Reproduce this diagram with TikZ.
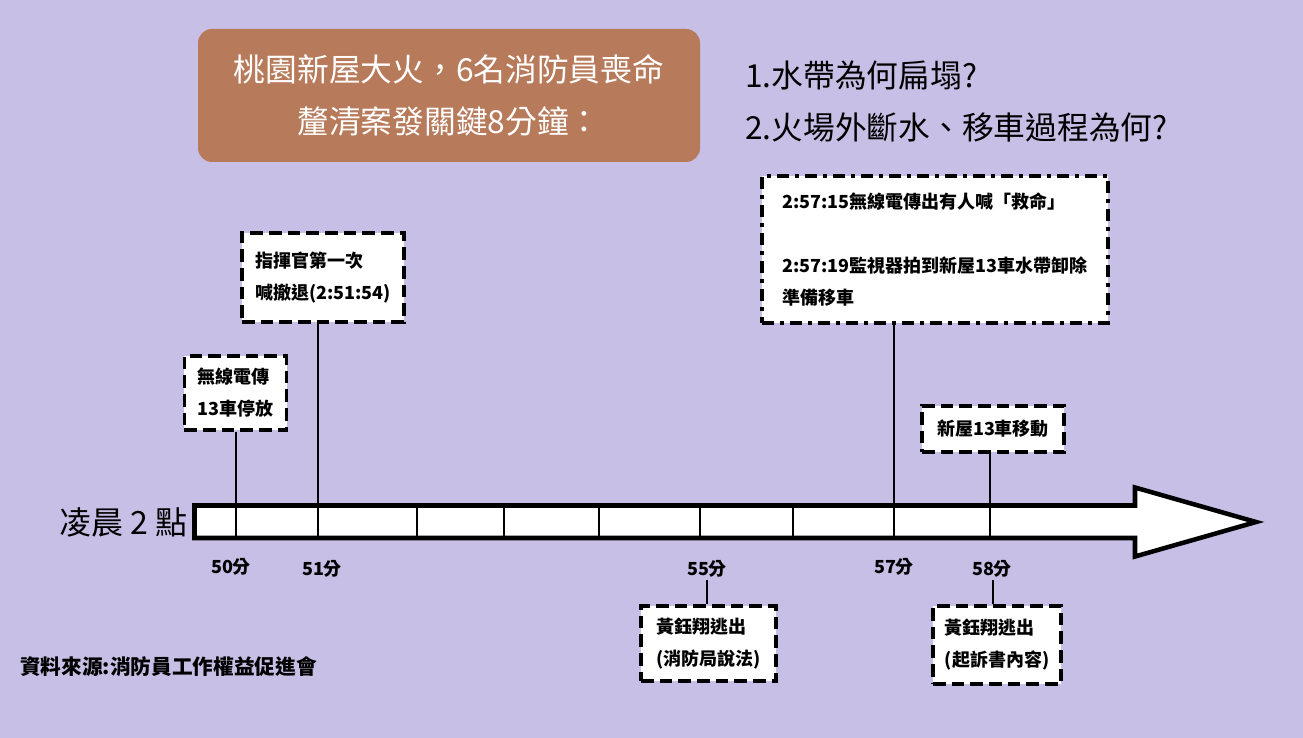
\documentclass[tikz,border=0pt]{standalone}
\usepackage{fontspec}
\setmainfont{Noto Sans CJK TC}
\newfontfamily\cjk{Noto Sans CJK TC}
\definecolor{bgcol}{RGB}{199,191,229}
\definecolor{titlecol}{RGB}{183,122,90}
\tikzset{
  evbox/.style={draw=black, fill=white, line width=2.3pt, dash pattern=on 9.5pt off 4.5pt,
    align=left, font=\cjk\bfseries\fontsize{13.5pt}{24pt}\selectfont, inner sep=0pt},
  evboxdd/.style={evbox, dash pattern=on 9pt off 4.5pt on 3pt off 4.5pt},
  conn/.style={draw=black, line width=1.5pt},
  divider/.style={draw=black, line width=1.1pt},
  minlabel/.style={font=\cjk\bfseries\fontsize{13.5pt}{16pt}\selectfont, inner sep=0pt},
  question/.style={anchor=west, font=\cjk\fontsize{23.8pt}{28pt}\selectfont, inner sep=0pt},
}
\begin{document}
\begin{tikzpicture}[x=0.75pt,y=-0.75pt]
\fill[bgcol] (0,0) rectangle (1303,738);
\useasboundingbox (0,0) rectangle (1303,738);

% title
\node[fill=titlecol, rounded corners=10.5pt, minimum width=376.5pt, minimum height=99.75pt,
  text=white, align=center, font=\cjk\fontsize{23.8pt}{39pt}\selectfont, inner sep=0pt]
  (title) at (449,95.5) {桃園新屋大火，6名消防員喪命\\釐清案發關鍵8分鐘：};

% questions
\node[question] (q1) at (745,75) {1.水帶為何扁塌?};
\node[question] (q2) at (745,127) {2.火場外斷水、移車過程為何?};

% timeline bar
\draw[line width=3.4pt, fill=white, miter limit=20]
  (194.5,505.5) -- (1135,505.5) -- (1135,487.5) -- (1256,522) -- (1135,556.5)
  -- (1135,538) -- (194.5,538) -- cycle;
\foreach \xx in {236,318,417,504,599,700,793,894,990}
  \draw[divider] (\xx,507.5) -- (\xx,536);

\coordinate (t50) at (236,505.5);
\coordinate (t51) at (318,505.5);
\coordinate (t57) at (894,505.5);
\coordinate (t58) at (990,505.5);

\node[anchor=east, font=\cjk\fontsize{24pt}{26pt}\selectfont, inner sep=0pt] (start) at (188,522) {凌晨 2 點};

% minute labels
\node[minlabel] (m50) at (231,567) {50分};
\node[minlabel] (m51) at (322,569) {51分};
\node[minlabel] (m55) at (707,569) {55分};
\node[minlabel] (m57) at (894,567) {57分};
\node[minlabel] (m58) at (992,569) {58分};

% event boxes
\node[evbox, minimum width=77pt, minimum height=55.5pt] (b1) at (235.5,393)
  {無線電傳\\13車停放};
\node[evbox, minimum width=121.5pt, minimum height=66.75pt] (b2) at (323,277.5)
  {指揮官第一次\\喊撤退(2:51:54)};
\node[evboxdd, minimum width=259.5pt, minimum height=110.25pt] (b3) at (935,249.5)
  {2:57:15無線電傳出有人喊「救命」\\ \\2:57:19監視器拍到新屋13車水帶卸除\\準備移車};
\node[evbox, minimum width=106.5pt, minimum height=34.5pt] (b4) at (993,429)
  {新屋13車移動};
\node[evbox, minimum width=101.25pt, minimum height=56.25pt] (b5) at (708.5,643.5)
  {黃鈺翔逃出\\(消防局說法)};
\node[evbox, minimum width=96pt, minimum height=58.5pt] (b6) at (997,645)
  {黃鈺翔逃出\\(起訴書內容)};

% connectors
\draw[conn] (b1.south -| t50) -- (t50);
\draw[conn] (b2.south -| t51) -- (t51);
\draw[conn] (b3.south -| t57) -- (t57);
\draw[conn] (b4.south -| t58) -- (t58);
\draw[conn] ([yshift=-1.5pt]m55.south) -- (m55.south |- b5.north);
\draw[conn] ([xshift=0.75pt,yshift=-1.5pt]m58.south) -- ([xshift=0.75pt]m58.south |- b6.north);

% source
\node[anchor=west, font=\cjk\bfseries\fontsize{15.5pt}{18pt}\selectfont, inner sep=0pt] (src) at (20,667)
  {資料來源:消防員工作權益促進會};
\end{tikzpicture}
\end{document}
